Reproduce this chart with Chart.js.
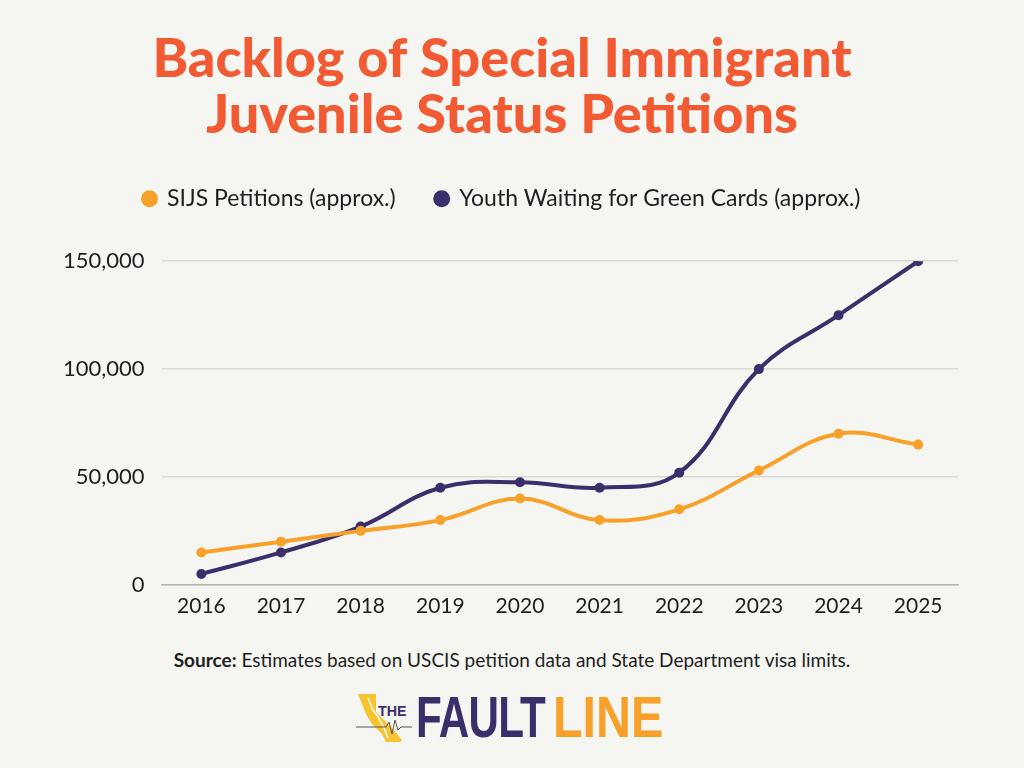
<!DOCTYPE html>
<html>
<head>
<meta charset="utf-8">
<script src="https://cdn.jsdelivr.net/npm/chart.js@4"></script>
<style>
  body { margin:0; background:#f5f5f1; width:1024px; height:768px; overflow:hidden; font-family:Lato, sans-serif; }
  #wrap { position:absolute; left:0; top:0; width:1024px; height:636px; }
  #source { position:absolute; top:648px; left:0; width:1024px; text-align:center; font-size:19px; color:#1e1e1e; }
  #logo { position:absolute; top:690px; left:356px; width:320px; height:60px; }
  #logo .the { position:absolute; left:22px; top:12px; font:900 15px "Liberation Sans", sans-serif; color:#3b2f6b; transform:scaleX(0.95); transform-origin:left; }
  #logo .fault { position:absolute; left:60px; top:-6px; font:bold 57px "Liberation Sans", sans-serif; color:#3b2f6b; transform:scaleX(0.74); transform-origin:left; letter-spacing:-1px; }
  #logo .line { position:absolute; left:197px; top:-6px; font:bold 57px "Liberation Sans", sans-serif; color:#f7a12b; transform:scaleX(0.85); transform-origin:left; }
</style>
</head>
<body>
<div id="wrap"><canvas id="chart"></canvas></div>
<div id="source"><b>Source:</b> Estimates based on USCIS petition data and State Department visa limits.</div>
<div id="logo">
  <svg width="60" height="56" style="position:absolute;left:0;top:0">
    <polygon points="2,4 20,4 20,22 36,38 46,50 44,52 30,52 26,44 16,34 10,24 6,14" fill="#f8c331"/>
    <polyline points="12,8 17,20 22,27 28,38 32,48" fill="none" stroke="#fff" stroke-width="1.5"/>
    <polyline points="0,37 30,37 33,32 36,44 39,30 42,40 45,37 56,37" fill="none" stroke="#555" stroke-width="1"/>
  </svg>
  <span class="the">THE</span>
  <span class="fault">FAULT</span>
  <span class="line">LINE</span>
</div>
<script>
var years = ['2016','2017','2018','2019','2020','2021','2022','2023','2024','2025'];
var sijsPetitions = [15000, 20000, 25000, 30000, 40000, 30000, 35000, 53000, 70000, 65000];
var youthWaiting = [5000, 15000, 27000, 45000, 47500, 45000, 52000, 100000, 125000, 150000];
var yTicks = [0, 50000, 100000, 150000];

var orange = '#f7a12b';
var purple = '#3b2f6b';

// extra room under the legend
var legendGap = {
  id: 'legendGap',
  beforeInit: function(chart) {
    var fit = chart.legend.fit;
    chart.legend.fit = function() {
      fit.bind(chart.legend)();
      this.height += 41;
    };
  }
};

var ctx = document.getElementById('chart').getContext('2d');
var config = {
  type: 'line',
  data: {
    labels: years,
    datasets: [{
      label: 'SIJS Petitions (approx.)',
      data: sijsPetitions,
      borderColor: orange,
      backgroundColor: orange,
      borderWidth: 4,
      pointRadius: 5,
      pointBackgroundColor: orange,
      pointBorderWidth: 0,
      tension: 0.4
    }, {
      label: 'Youth Waiting for Green Cards (approx.)',
      data: youthWaiting,
      borderColor: purple,
      backgroundColor: purple,
      borderWidth: 4,
      pointRadius: 5,
      pointBackgroundColor: purple,
      pointBorderWidth: 0,
      tension: 0.4
    }]
  },
  plugins: [legendGap],
  options: {
    responsive: true,
    maintainAspectRatio: false,
    animation: false,
    layout: { padding: { left: 46, right: 66, top: 32, bottom: 16 } },
    plugins: {
      title: {
        display: true,
        text: ['Backlog of Special Immigrant', 'Juvenile Status Petitions'],
        color: '#f25a33',
        font: { family: 'Lato', size: 54, weight: '900', lineHeight: 1.03 },
        padding: { top: 0, bottom: 4 }
      },
      legend: {
        display: true,
        labels: {
          usePointStyle: true,
          pointStyle: 'circle',
          boxWidth: 12,
          boxHeight: 12,
          padding: 40,
          color: '#1e1e1e',
          font: { family: 'Lato', size: 23 }
        }
      },
      tooltip: { enabled: false }
    },
    scales: {
      x: {
        offset: true,
        grid: { display: false },
        border: { display: true, color: '#b5b5b0', width: 1.5 },
        ticks: { color: '#1e1e1e', font: { family: 'Lato', size: 21 }, padding: 1 }
      },
      y: {
        min: 0,
        max: 150000,
        afterBuildTicks: function(axis) {
          axis.ticks = yTicks.map(function(v) { return { value: v }; });
        },
        grid: { color: '#d9d9d4', lineWidth: 1.5, drawTicks: false },
        border: { display: false },
        ticks: {
          color: '#1e1e1e',
          font: { family: 'Lato', size: 22 },
          padding: 17,
          callback: function(v) { return v.toLocaleString('en-US'); }
        }
      }
    }
  }
};
var chart = new Chart(ctx, config);
</script>
</body>
</html>
